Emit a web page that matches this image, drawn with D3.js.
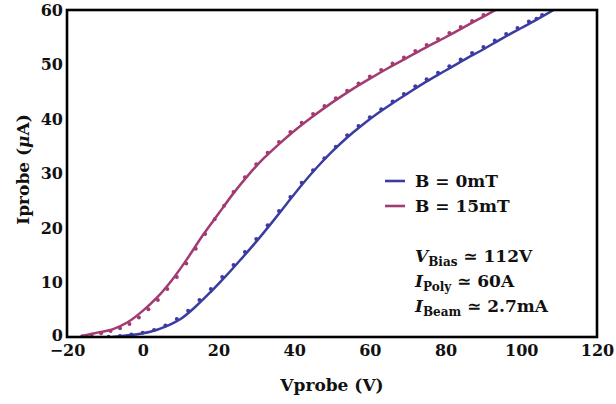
<!DOCTYPE html>
<html>
<head>
<meta charset="utf-8">
<script src="https://cdn.jsdelivr.net/npm/d3@7/dist/d3.min.js"></script>
<style>
  html, body { margin: 0; padding: 0; background: #fff; }
  svg { display: block; }
  text { font-family: "DejaVu Serif", serif; font-weight: bold; fill: #111; }
</style>
</head>
<body>
<svg id="chart" width="616" height="404"></svg>
<script>
// Probe I–V characteristic, with and without magnetic field
const seriesNames = ["B = 0mT", "B = 15mT"];
const seriesColors = ["#3b3ba2", "#a23b73"];

// Fitted curves (Vprobe in V, Iprobe in μA)
const fit0V = [-8, -6, -2, 2, 6, 10, 14, 18, 22, 26, 30, 34, 38, 42, 46, 50, 54, 58, 62, 66, 70, 75, 80, 85, 90, 95, 100, 105, 110];
const fit0I = [0.0, 0.15, 0.45, 0.95, 1.9, 3.3, 5.6, 8.3, 11.2, 14.3, 17.5, 20.9, 24.4, 27.9, 31.1, 34.0, 36.6, 38.9, 41.0, 42.9, 44.7, 46.9, 48.9, 50.9, 52.8, 54.8, 56.7, 58.6, 60.6];

const fit15V = [-16, -12, -8, -4, 0, 4, 8, 12, 16, 20, 24, 28, 32, 36, 40, 45, 50, 55, 60, 65, 70, 75, 80, 85, 90, 95];
const fit15I = [0.2, 0.8, 1.4, 2.7, 4.8, 7.4, 10.7, 14.6, 18.8, 22.6, 26.4, 29.8, 32.8, 35.4, 37.8, 40.5, 43.0, 45.3, 47.4, 49.4, 51.3, 53.2, 55.0, 56.9, 58.8, 60.7];

// Measured points
const data0V = [-9, -6, -3, 0, 3, 6, 9, 12, 15, 18, 21, 24, 27, 30, 33, 36, 39, 42, 45, 48, 51, 54, 57, 60, 63, 66, 69, 72, 75, 78, 81, 84, 87, 90, 93, 96, 99, 102, 104, 105.5];
const data0I = [0.05, 0.2, 0.45, 0.8, 1.3, 2.1, 3.3, 4.8, 6.8, 8.8, 11.0, 13.2, 15.6, 18.0, 20.5, 23.1, 25.7, 28.3, 30.6, 32.8, 34.9, 37.0, 38.7, 40.3, 41.8, 43.2, 44.6, 46.0, 47.3, 48.5, 49.7, 50.9, 52.1, 53.2, 54.4, 55.6, 56.7, 57.9, 58.4, 59.1];

const data15V = [-16, -13.5, -11, -8.5, -6, -3.5, -1, 1.5, 4, 6.5, 9, 11.5, 14, 16.5, 19, 21.5, 24, 27, 30, 33, 36, 39, 42, 45, 48, 51, 54, 57, 60, 63, 66, 69, 72, 75, 78, 81, 84, 87, 90, 92.5];
const data15I = [0.15, 0.4, 0.7, 1.1, 1.6, 2.4, 3.6, 5.1, 6.8, 8.8, 11.0, 13.5, 16.2, 18.9, 21.6, 24.1, 26.6, 29.3, 31.7, 33.8, 35.8, 37.6, 39.3, 40.9, 42.4, 43.8, 45.2, 46.5, 47.8, 49.0, 50.2, 51.3, 52.5, 53.6, 54.7, 55.8, 56.9, 58.0, 59.1, 60.0];

const xTicks = [-20, 0, 20, 40, 60, 80, 100, 120];
const yTicks = [0, 10, 20, 30, 40, 50, 60];

const svg = d3.select("#chart");
const plot = { left: 67, right: 597, top: 10, bottom: 337 };

const x = d3.scaleLinear().domain([-20, 120]).range([plot.left, plot.right]);
const y = d3.scaleLinear().domain([0, 60]).range([plot.bottom, plot.top]);

svg.append("defs").append("clipPath").attr("id", "plotClip")
  .append("rect")
  .attr("x", plot.left).attr("y", plot.top)
  .attr("width", plot.right - plot.left).attr("height", plot.bottom - plot.top);

const body = svg.append("g").attr("clip-path", "url(#plotClip)");

const zip = (a, b) => a.map((v, i) => [v, b[i]]);
const fits = [zip(fit0V, fit0I), zip(fit15V, fit15I)];
const points = [zip(data0V, data0I), zip(data15V, data15I)];

const line = d3.line()
  .x(d => x(d[0]))
  .y(d => y(d[1]))
  .curve(d3.curveCatmullRom.alpha(0.5));

points.forEach((pts, i) => {
  body.append("g").selectAll("circle")
    .data(pts)
    .join("circle")
    .attr("cx", d => x(d[0]))
    .attr("cy", d => y(d[1]))
    .attr("r", 2)
    .attr("fill", seriesColors[i]);
});

fits.forEach((pts, i) => {
  body.append("path")
    .datum(pts)
    .attr("d", line)
    .attr("fill", "none")
    .attr("stroke", seriesColors[i])
    .attr("stroke-width", 2.5);
});

// Axes (labels only, the frame is drawn separately)
const xAxis = svg.append("g")
  .attr("transform", `translate(0,${plot.bottom})`)
  .call(d3.axisBottom(x).tickValues(xTicks).tickSize(0).tickPadding(8));
xAxis.select(".domain").remove();
xAxis.selectAll("text").attr("font-size", 16).attr("font-family", "DejaVu Serif").attr("font-weight", "bold").attr("fill", "#111");

const yAxis = svg.append("g")
  .attr("transform", `translate(${plot.left},0)`)
  .call(d3.axisLeft(y).tickValues(yTicks).tickSize(0).tickPadding(4));
yAxis.select(".domain").remove();
yAxis.selectAll("text").attr("font-size", 16).attr("font-family", "DejaVu Serif").attr("font-weight", "bold").attr("fill", "#111");
// lift the bottom "0" a touch so it clears the "−20" below it
yAxis.selectAll(".tick text").filter(d => d === 0).attr("dy", "0.2em");

svg.append("rect")
  .attr("x", plot.left).attr("y", plot.top)
  .attr("width", plot.right - plot.left).attr("height", plot.bottom - plot.top)
  .attr("fill", "none").attr("stroke", "#000").attr("stroke-width", 2.6);

// Axis titles
svg.append("text")
  .attr("x", (plot.left + plot.right) / 2).attr("y", 391)
  .attr("text-anchor", "middle").attr("font-size", 17)
  .text("Vprobe (V)");

const yTitle = svg.append("text")
  .attr("transform", `translate(29,${(plot.top + plot.bottom) / 2 - 4}) rotate(-90)`)
  .attr("text-anchor", "middle").attr("font-size", 17);
yTitle.append("tspan").text("Iprobe (");
yTitle.append("tspan").attr("font-style", "italic").text("μ");
yTitle.append("tspan").text("A)");

// Legend
const legend = svg.append("g");
seriesNames.forEach((name, i) => {
  const cy = 181 + i * 25;
  legend.append("line")
    .attr("x1", 385).attr("x2", 405).attr("y1", cy).attr("y2", cy)
    .attr("stroke", seriesColors[i]).attr("stroke-width", 2.6);
  legend.append("text")
    .attr("x", 415).attr("y", cy + 6)
    .attr("font-size", 17)
    .text(name);
});

// Operating conditions
const conditions = [
  { sym: "V", sub: "Bias", rest: " ≃ 112V" },
  { sym: "I", sub: "Poly", rest: " ≃ 60A" },
  { sym: "I", sub: "Beam", rest: " ≃ 2.7mA" }
];
conditions.forEach((c, i) => {
  const t = svg.append("text")
    .attr("x", 415).attr("y", 262 + i * 25)
    .attr("font-size", 17);
  t.append("tspan").attr("font-style", "italic").text(c.sym);
  t.append("tspan").attr("font-size", 12).attr("dy", 4).text(c.sub);
  t.append("tspan").attr("dy", -4).text(c.rest);
});
</script>
</body>
</html>
